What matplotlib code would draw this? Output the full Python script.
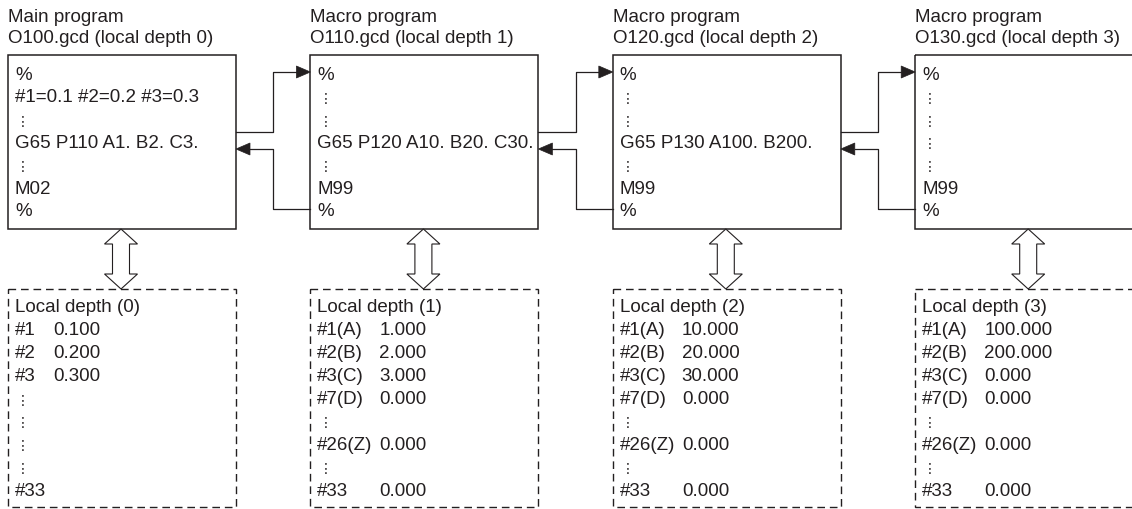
import matplotlib.pyplot as plt
from matplotlib.patches import Polygon, Rectangle

plt.rcParams["font.family"] = ["Liberation Sans", "DejaVu Sans"]

PUNTOS = "\u22ee"  # vertical ellipsis

TITULOS = ["Main program", "Macro program", "Macro program", "Macro program"]
ARCHIVOS = [
    "O100.gcd (local depth 0)",
    "O110.gcd (local depth 1)",
    "O120.gcd (local depth 2)",
    "O130.gcd (local depth 3)",
]
PROGRAMAS = [
    ["%", "#1=0.1 #2=0.2 #3=0.3", PUNTOS, "G65 P110 A1. B2. C3.", PUNTOS, "M02", "%"],
    ["%", PUNTOS, PUNTOS, "G65 P120 A10. B20. C30.", PUNTOS, "M99", "%"],
    ["%", PUNTOS, PUNTOS, "G65 P130 A100. B200.", PUNTOS, "M99", "%"],
    ["%", PUNTOS, PUNTOS, PUNTOS, PUNTOS, "M99", "%"],
]
ENCABEZADOS = ["Local depth (0)", "Local depth (1)", "Local depth (2)", "Local depth (3)"]
VARIABLES = [
    ["#1", "#2", "#3", PUNTOS, PUNTOS, PUNTOS, PUNTOS, "#33"],
    ["#1(A)", "#2(B)", "#3(C)", "#7(D)", PUNTOS, "#26(Z)", PUNTOS, "#33"],
    ["#1(A)", "#2(B)", "#3(C)", "#7(D)", PUNTOS, "#26(Z)", PUNTOS, "#33"],
    ["#1(A)", "#2(B)", "#3(C)", "#7(D)", PUNTOS, "#26(Z)", PUNTOS, "#33"],
]
VALORES = [
    ["0.100", "0.200", "0.300", "", "", "", "", ""],
    ["1.000", "2.000", "3.000", "0.000", "", "0.000", "", "0.000"],
    ["10.000", "20.000", "30.000", "0.000", "", "0.000", "", "0.000"],
    ["100.000", "200.000", "0.000", "0.000", "", "0.000", "", "0.000"],
]

# layout (pixels)
X0, PASO, ANCHO = 8, 302.4, 228
Y_CAJA, ALTO_CAJA = 55, 174
Y_LOCAL, ALTO_LOCAL = 289, 218
COLOR = "#231f20"
FS = 13.5


def escribir(ax, x, y, texto):
    # the dotted rows are drawn a bit smaller, as in the original figure
    if texto == PUNTOS:
        ax.text(x + 1, y + 1, texto, fontsize=10, color=COLOR, va="center")
    else:
        ax.text(x, y, texto, fontsize=FS, color=COLOR, va="center")


def cabeza_flecha(ax, x, y, sentido):
    largo, medio = 14, 6
    ax.add_patch(Polygon([(x, y), (x - sentido * largo, y - medio), (x - sentido * largo, y + medio)],
                         closed=True, facecolor=COLOR, edgecolor=COLOR, lw=0.5))


def flecha_doble(ax, xc, y_top, y_bot):
    cab, hw, sw = 15, 16.5, 8.5
    pts = [
        (xc, y_top), (xc + hw, y_top + cab), (xc + sw, y_top + cab), (xc + sw, y_bot - cab),
        (xc + hw, y_bot - cab), (xc, y_bot), (xc - hw, y_bot - cab), (xc - sw, y_bot - cab),
        (xc - sw, y_top + cab), (xc - hw, y_top + cab),
    ]
    ax.add_patch(Polygon(pts, closed=True, facecolor="white", edgecolor=COLOR, lw=0.8))


def main():
    fig = plt.figure(figsize=(11.32, 5.09), dpi=100)
    ax = fig.add_axes([0, 0, 1, 1])
    ax.set_xlim(0, 1132)
    ax.set_ylim(509, 0)
    ax.axis("off")

    for i in range(len(TITULOS)):
        x = X0 + PASO * i
        ax.text(x, 17, TITULOS[i], fontsize=FS, color=COLOR, va="center")
        ax.text(x, 38, ARCHIVOS[i], fontsize=FS, color=COLOR, va="center")

        ax.add_patch(Rectangle((x, Y_CAJA), ANCHO, ALTO_CAJA, fill=False, edgecolor=COLOR, lw=1.1))
        for j, linea in enumerate(PROGRAMAS[i]):
            escribir(ax, x + 7, 75 + 22.8 * j, linea)

        ax.add_patch(Rectangle((x, Y_LOCAL), ANCHO, ALTO_LOCAL, fill=False, edgecolor=COLOR,
                               lw=1.0, linestyle=(0, (5.5, 3.5))))
        ax.text(x + 7, 308, ENCABEZADOS[i], fontsize=FS, color=COLOR, va="center")
        col_valor = 45 if i == 0 else 69
        for j, (nombre, valor) in enumerate(zip(VARIABLES[i], VALORES[i])):
            y = 308 + 22.9 * (j + 1)
            escribir(ax, x + 7, y, nombre)
            if valor:
                ax.text(x + col_valor, y, valor, fontsize=FS, color=COLOR, va="center")

        flecha_doble(ax, x + 113, Y_CAJA + ALTO_CAJA, Y_LOCAL)

        # call / return connectors to next program
        if i < len(TITULOS) - 1:
            xd = x + ANCHO
            xs = X0 + PASO * (i + 1)
            xm = (xd + xs) / 2
            ax.plot([xd, xm, xm, xs - 14], [132, 132, 72, 72], color=COLOR, lw=0.9)
            cabeza_flecha(ax, xs, 72, 1)
            ax.plot([xs, xm, xm, xd + 14], [209, 209, 149, 149], color=COLOR, lw=0.9)
            cabeza_flecha(ax, xd, 149, -1)

    fig.savefig("out.png", dpi=100)
    plt.close(fig)


if __name__ == "__main__":
    main()
